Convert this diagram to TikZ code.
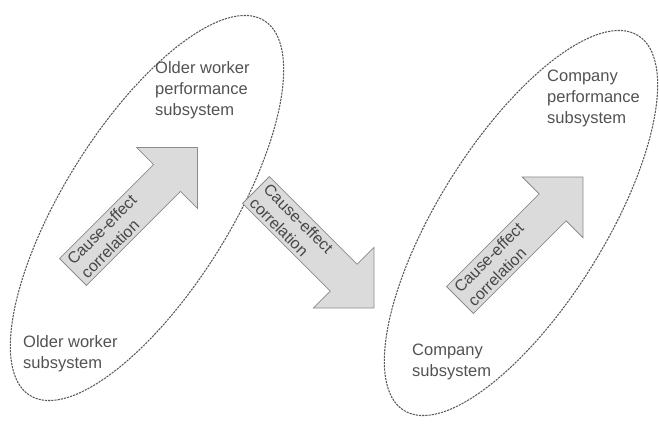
\documentclass[tikz,border=0pt]{standalone}
\usepackage{fontspec}
\setmainfont{Liberation Sans}
\usetikzlibrary{shapes.geometric}
\begin{document}
\begin{tikzpicture}[x=1pt,y=1pt,
  region/.style={ellipse, draw=black!65, line width=1.05pt,
    dash pattern=on 2.2pt off 1pt, minimum width=442pt, minimum height=166pt,
    inner sep=0pt},
  sublabel/.style={font=\fontsize{16.5}{21}\selectfont, text=black!68,
    align=left, inner sep=0pt, anchor=north west},
  arrowtext/.style={font=\fontsize{16}{19.5}\selectfont, text=black!72,
    align=left, inner sep=0pt, anchor=west},
  arrowbody/.style={fill=black!14, draw=black!45, line width=0.8pt,
    line join=miter},
  % block arrow along +x, argument = total length; shaft 38, head 86 wide
  pics/blockarrow/.style={code={
    \pgfmathsetmacro\shaftend{#1-43}
    \draw[arrowbody] (0,-19) -- (\shaftend,-19) -- (\shaftend,-43)
      -- (#1,0) -- (\shaftend,43) -- (\shaftend,19) -- (0,19) -- cycle;
    \node[arrowtext] (-label) at (5,0) {Cause-effect\\correlation};
  }}]
\useasboundingbox (0,0) rectangle (659,424);

% the two subsystem regions
\node[region, rotate=58] (worker) at (147,216) {};
\node[region, rotate=58] (company) at (521,201) {};

% cause-effect arrows
\pic[rotate=45, transform shape] (inner1) at (73,152) {blockarrow=176};
\pic[rotate=-45, transform shape] (between) at (256,234) {blockarrow=167};
\pic[rotate=45, transform shape] (inner2) at (460,124) {blockarrow=174};

% subsystem labels
\node[sublabel] (wperf) at (155,363) {Older worker\\performance\\subsystem};
\node[sublabel] (wbase) at (23,89) {Older worker\\subsystem};
\node[sublabel] (cperf) at (547,354) {Company\\performance\\subsystem};
\node[sublabel] (cbase) at (412,80) {Company\\subsystem};
\end{tikzpicture}
\end{document}
